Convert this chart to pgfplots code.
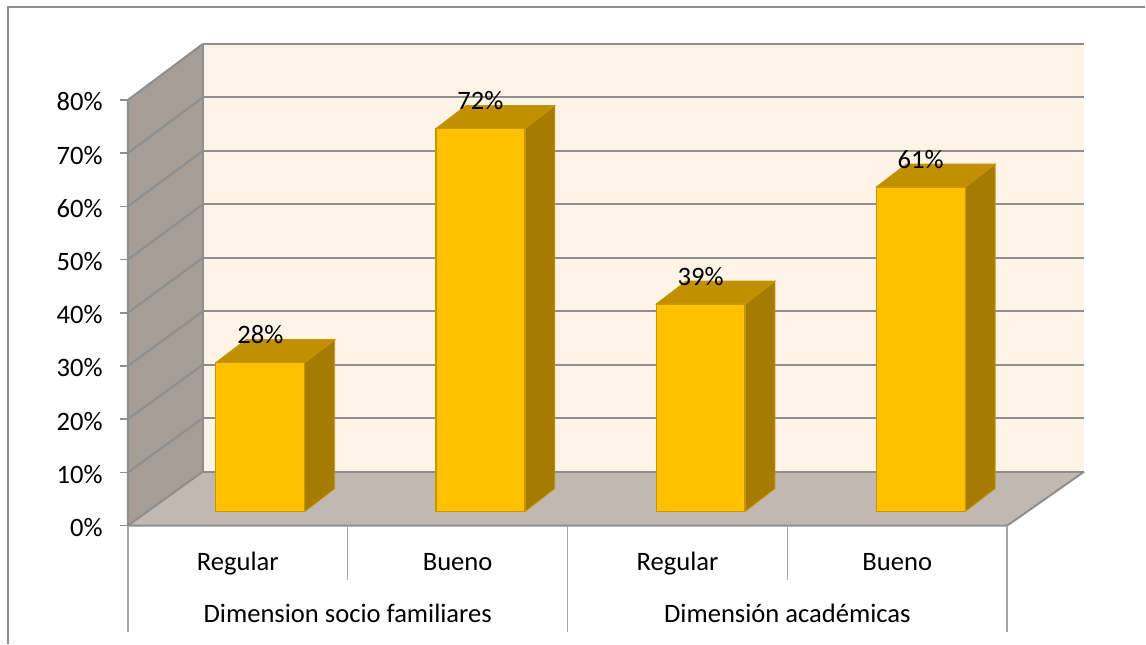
\documentclass[border=0pt]{standalone}
\usepackage{pgfplots}
\pgfplotsset{compat=1.18}
\usepackage{fontspec}
\setmainfont{Carlito}
\definecolor{wallback}{HTML}{FDF3E6}
\definecolor{wallside}{HTML}{A59D96}
\definecolor{floorc}{HTML}{C1B9B1}
\definecolor{gridc}{HTML}{8E8E8E}
\definecolor{sepc}{HTML}{A6A6A6}
\definecolor{barfront}{HTML}{FFC000}
\definecolor{bartop}{HTML}{C09000}
\definecolor{barside}{HTML}{A67C00}
\definecolor{barline}{HTML}{C89600}
\newcommand\lbl{\fontsize{13.3}{16}\selectfont}
\begin{document}
\begin{tikzpicture}
% structure, in pixel coordinates
\begin{axis}[name=A, width=573pt, height=322pt, scale only axis, hide axis, clip=false,
  xmin=0, xmax=1146, ymin=0, ymax=644, y dir=reverse]
\path (axis cs:0,0) rectangle (axis cs:1146,644);
% walls and floor
\fill[wallback] (axis cs:203,44) rectangle (axis cs:1085,472);
\fill[wallside] (axis cs:128,526) -- (axis cs:203,472) -- (axis cs:203,44) -- (axis cs:128,100) -- cycle;
\fill[floorc] (axis cs:128,526) -- (axis cs:1008,526) -- (axis cs:1085,472) -- (axis cs:203,472) -- cycle;
% grid lines
\pgfplotsinvokeforeach{0,...,8}{
  \draw[gridc, line width=1pt] (axis cs:128,{526-53.25*#1}) -- (axis cs:203,{472-53.5*#1});
  \draw[gridc, line width=1pt] (axis cs:203,{472-53.5*#1}) -- (axis cs:1085,{472-53.5*#1});
  \draw[gridc, line width=0.75pt] (axis cs:120,{526-53.25*#1}) -- (axis cs:128,{526-53.25*#1});
  \node[anchor=base east, inner sep=0pt, font=\lbl] at (axis cs:103,{537-53.25*#1}) {\pgfmathparse{int(10*#1)}\pgfmathresult\%};
}
\draw[gridc, line width=0.75pt] (axis cs:203,472) -- (axis cs:203,44);
\draw[gridc, line width=1pt] (axis cs:128,100) -- (axis cs:128,526) -- (axis cs:1008,526) -- (axis cs:1085,472);
% category separators
\draw[sepc, line width=0.75pt] (axis cs:128,526) -- (axis cs:128,632);
\draw[sepc, line width=0.75pt] (axis cs:348,526) -- (axis cs:348,580);
\draw[sepc, line width=0.75pt] (axis cs:568,526) -- (axis cs:568,632);
\draw[sepc, line width=0.75pt] (axis cs:788,526) -- (axis cs:788,580);
\draw[sepc, line width=0.75pt] (axis cs:1008,526) -- (axis cs:1008,632);
% category labels
\node[anchor=base, inner sep=0pt, font=\lbl] at (axis cs:238,571) {Regular};
\node[anchor=base, inner sep=0pt, font=\lbl] at (axis cs:458,571) {Bueno};
\node[anchor=base, inner sep=0pt, font=\lbl] at (axis cs:678,571) {Regular};
\node[anchor=base, inner sep=0pt, font=\lbl] at (axis cs:898,571) {Bueno};
\node[anchor=base, inner sep=0pt, font=\lbl] at (axis cs:348,623) {Dimension socio familiares};
\node[anchor=base, inner sep=0pt, font=\lbl] at (axis cs:788,623) {Dimensión académicas};
% outer frame
\draw[gridc, line width=0.9pt] (axis cs:8,644) -- (axis cs:8,7) -- (axis cs:1146,7);
\end{axis}
% bars, in category / percent coordinates on the bar plane
\begin{axis}[width=573pt, height=322pt, scale only axis, hide axis, clip=false,
  xmin=-1.1825, xmax=4.0195, ymin=-24.789, ymax=96.150,
  /pgf/number format/assume math mode=true]
% side faces
\addplot[fill=barside, draw=barline, line width=0.4pt] coordinates {(0.202,0) (0.338,4.32) (0.338,32.32) (0.202,28)} -- cycle;
\addplot[fill=barside, draw=barline, line width=0.4pt] coordinates {(1.202,0) (1.338,4.32) (1.338,76.32) (1.202,72)} -- cycle;
\addplot[fill=barside, draw=barline, line width=0.4pt] coordinates {(2.202,0) (2.338,4.32) (2.338,43.32) (2.202,39)} -- cycle;
\addplot[fill=barside, draw=barline, line width=0.4pt] coordinates {(3.202,0) (3.338,4.32) (3.338,65.32) (3.202,61)} -- cycle;
% top faces
\addplot[fill=bartop, draw=barline, line width=0.4pt] coordinates {(-0.202,28) (0.202,28) (0.338,32.32) (-0.066,32.32)} -- cycle;
\addplot[fill=bartop, draw=barline, line width=0.4pt] coordinates {(0.798,72) (1.202,72) (1.338,76.32) (0.934,76.32)} -- cycle;
\addplot[fill=bartop, draw=barline, line width=0.4pt] coordinates {(1.798,39) (2.202,39) (2.338,43.32) (1.934,43.32)} -- cycle;
\addplot[fill=bartop, draw=barline, line width=0.4pt] coordinates {(2.798,61) (3.202,61) (3.338,65.32) (2.934,65.32)} -- cycle;
% front faces with value labels
\addplot[ybar, bar width=44.5pt, fill=barfront, draw=barline, line width=0.6pt,
  nodes near coords={\pgfmathprintnumber{\pgfplotspointmeta}\%},
  every node near coord/.append style={anchor=base, yshift=9.5pt, inner sep=0pt, font=\lbl, text=black}]
  coordinates {(0,28) (1,72) (2,39) (3,61)};
\end{axis}
\end{tikzpicture}
\end{document}
